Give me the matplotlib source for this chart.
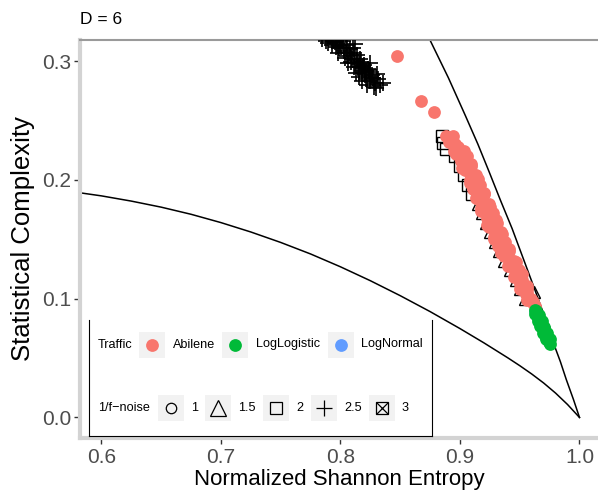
import matplotlib
matplotlib.use("Agg")
import matplotlib.pyplot as plt
from matplotlib.patches import Rectangle
from matplotlib.lines import Line2D

plt.rcParams['font.family'] = ['Liberation Sans', 'DejaVu Sans']

# ---------------- data ----------------
panel_title = "D = 6"
x_label = "Normalized Shannon Entropy"
y_label = "Statistical Complexity"
x_ticks = [0.6, 0.7, 0.8, 0.9, 1.0]
y_ticks = [0.0, 0.1, 0.2, 0.3]

# theoretical bound curves
upper_H = [0.8673, 0.8749, 0.8903, 0.9045, 0.9150, 0.9245, 0.9340, 0.9437, 0.9525, 0.9613,
           0.9700, 0.9779, 0.9840, 0.9890, 0.9950, 1.0000]
upper_C = [0.3336, 0.3177, 0.2859, 0.2541, 0.2300, 0.2065, 0.1825, 0.1588, 0.1350, 0.1112,
           0.0872, 0.0635, 0.0470, 0.0318, 0.0150, 0.0000]
lower_H = [0.5750, 0.6000, 0.6250, 0.6500, 0.6750, 0.7000, 0.7250, 0.7500, 0.7750, 0.8000,
           0.8250, 0.8500, 0.8750, 0.9000, 0.9200, 0.9400, 0.9500, 0.9600, 0.9700, 0.9800,
           0.9900, 1.0000]
lower_C = [0.1901, 0.1865, 0.1821, 0.1770, 0.1710, 0.1640, 0.1561, 0.1473, 0.1376, 0.1268,
           0.1151, 0.1025, 0.0891, 0.0748, 0.0628, 0.0502, 0.0436, 0.0366, 0.0290, 0.0205,
           0.0109, 0.0000]

# 1/f noise (black, hollow shapes)
noise_k25_H = [0.7845, 0.7895, 0.7937, 0.7962, 0.7996, 0.8029, 0.7979, 0.8054, 0.8080, 0.8096,
               0.8121, 0.8063, 0.8146, 0.8163, 0.8180, 0.8130, 0.8205, 0.8230, 0.8213, 0.8247,
               0.8264, 0.8289, 0.8180, 0.8314, 0.8280, 0.8331, 0.8046, 0.8013, 0.8113, 0.8197,
               0.7912, 0.8247, 0.8155, 0.8113, 0.8222,
               0.7879, 0.7929, 0.7987, 0.8021, 0.8071, 0.8105, 0.8138, 0.8172, 0.8038, 0.8088,
               0.8188, 0.8238, 0.8272, 0.8306, 0.8356, 0.8297, 0.8213, 0.8163, 0.7971, 0.8121,
               0.8054, 0.8088, 0.8138, 0.8188, 0.8238, 0.8004, 0.7954, 0.8155, 0.8205, 0.8255]
noise_k25_C = [0.3188, 0.3154, 0.3171, 0.3120, 0.3137, 0.3087, 0.3070, 0.3045, 0.3103, 0.3019,
               0.2986, 0.2986, 0.2952, 0.3019, 0.2918, 0.2902, 0.2885, 0.2935, 0.2851, 0.2834,
               0.2885, 0.2818, 0.2834, 0.2851, 0.2784, 0.2801, 0.3137, 0.3188, 0.3070, 0.2969,
               0.3204, 0.2986, 0.2868, 0.2952, 0.2801,
               0.3168, 0.3135, 0.3109, 0.3168, 0.3067, 0.3109, 0.3050, 0.2991, 0.3025, 0.2991,
               0.2940, 0.2907, 0.2856, 0.2890, 0.2815, 0.2773, 0.2915, 0.2949, 0.3151, 0.3143,
               0.3109, 0.3050, 0.3008, 0.2957, 0.2924, 0.3118, 0.3160, 0.2974, 0.2898, 0.2865]
noise_k2_H = [0.8850, 0.8862, 0.8880, 0.8955, 0.8999, 0.9036, 0.9071, 0.9103]
noise_k2_C = [0.2372, 0.2310, 0.2260, 0.2200, 0.2120, 0.2040, 0.1960, 0.1880]
noise_k15_H = [0.9150, 0.9185, 0.9218, 0.9252, 0.9289, 0.9330, 0.9372, 0.9415, 0.9465, 0.9505,
               0.9548, 0.9618]
noise_k15_C = [0.1800, 0.1720, 0.1640, 0.1560, 0.1480, 0.1400, 0.1320, 0.1240, 0.1160, 0.1080,
               0.1000, 0.1060]
noise_k1_H = [0.9680, 0.9700]
noise_k1_C = [0.0800, 0.0750]

# traffic series
lognormal_H = [0.9632]
lognormal_C = [0.0895]
abilene_H = [0.8473, 0.8674, 0.8782, 0.8880, 0.8941, 0.8905,
             0.8916, 0.8955, 0.9000, 0.8965, 0.9035, 0.9030, 0.9059, 0.9020, 0.9095, 0.9088,
             0.9117, 0.9080, 0.9155, 0.9142, 0.9167, 0.9130, 0.9205, 0.9192, 0.9218, 0.9180,
             0.9255, 0.9243, 0.9268, 0.9230, 0.9305, 0.9293, 0.9318, 0.9282, 0.9355, 0.9348,
             0.9377, 0.9340, 0.9412, 0.9406, 0.9435, 0.9400, 0.9468, 0.9460, 0.9485, 0.9452,
             0.9515, 0.9510, 0.9536, 0.9505, 0.9562, 0.9561, 0.9586, 0.9558, 0.9610, 0.9628,
             0.8915, 0.8987, 0.8951, 0.9055, 0.9007, 0.9089, 0.9038, 0.9136, 0.9085, 0.9171,
             0.9107, 0.9203, 0.9151, 0.9240, 0.9178, 0.9275, 0.9222, 0.9308, 0.9245, 0.9342,
             0.9288, 0.9379, 0.9320, 0.9410, 0.9371, 0.9452, 0.9412, 0.9492, 0.9462, 0.9522,
             0.9502, 0.9563, 0.9555, 0.9597, 0.9615]
abilene_C = [0.3040, 0.2660, 0.2570, 0.2365, 0.2372, 0.2320,
             0.2330, 0.2300, 0.2229, 0.2215, 0.2245, 0.2175, 0.2119, 0.2100, 0.2135, 0.2055,
             0.1993, 0.1975, 0.2010, 0.1930, 0.1867, 0.1850, 0.1885, 0.1812, 0.1758, 0.1740,
             0.1775, 0.1700, 0.1640, 0.1622, 0.1658, 0.1580, 0.1522, 0.1505, 0.1540, 0.1463,
             0.1405, 0.1388, 0.1422, 0.1350, 0.1295, 0.1278, 0.1312, 0.1245, 0.1194, 0.1178,
             0.1210, 0.1143, 0.1093, 0.1078, 0.1105, 0.1047, 0.1001, 0.0990, 0.0970, 0.0942,
             0.2320, 0.2280, 0.2240, 0.2200, 0.2160, 0.2120, 0.2080, 0.2040, 0.2000, 0.1960,
             0.1920, 0.1880, 0.1840, 0.1800, 0.1760, 0.1720, 0.1680, 0.1640, 0.1600, 0.1560,
             0.1520, 0.1480, 0.1440, 0.1400, 0.1360, 0.1320, 0.1280, 0.1240, 0.1200, 0.1160,
             0.1120, 0.1080, 0.1040, 0.1000, 0.0960]
loglogistic_H = [0.9630, 0.9640, 0.9645, 0.9655, 0.9662, 0.9670, 0.9678, 0.9685, 0.9692, 0.9700,
                 0.9708, 0.9715, 0.9722, 0.9730, 0.9738, 0.9745, 0.9752, 0.9636, 0.9660, 0.9695,
                 0.9725, 0.9665, 0.9688, 0.9707, 0.9728, 0.9750, 0.9630, 0.9655, 0.9672, 0.9695,
                 0.9718]
loglogistic_C = [0.0905, 0.0880, 0.0865, 0.0840, 0.0825, 0.0800, 0.0785, 0.0765, 0.0750, 0.0730,
                 0.0712, 0.0695, 0.0680, 0.0665, 0.0648, 0.0632, 0.0615, 0.0892, 0.0830, 0.0742,
                 0.0670, 0.0862, 0.0808, 0.0765, 0.0712, 0.0660, 0.0870, 0.0810, 0.0770, 0.0715,
                 0.0660]

traffic_labels = ["Abilene", "LogLogistic", "LogNormal"]
traffic_colors = ["#F8766D", "#00BA38", "#619CFF"]
noise_labels = ["1", "1.5", "2", "2.5", "3"]

# ---------------- figure ----------------
W, Hh = 598, 491
fig = plt.figure(figsize=(W / 100, Hh / 100), dpi=100)
ax = fig.add_axes([79.7 / W, 1 - 438 / Hh, 1 - 79.7 / W, (438 - 40) / Hh])
ax.set_xlim(0.5818, 1.0155)
ax.set_ylim(-0.0173, 0.3177)

ax.plot(upper_H, upper_C, color="black", lw=1.1, zorder=2)
ax.plot(lower_H, lower_C, color="black", lw=1.1, zorder=2)

mk = dict(linestyle="none", color="black", mfc="none", zorder=3)
ax.plot(noise_k25_H, noise_k25_C, marker="+", ms=11, mew=1.2, **mk)
ax.plot(noise_k2_H, noise_k2_C, marker="s", ms=8.5, mew=1.0, **mk)
ax.plot(noise_k15_H, noise_k15_C, marker="^", ms=9, mew=1.0, **mk)
ax.plot(noise_k1_H, noise_k1_C, marker="o", ms=8, mew=1.0, **mk)

pk = dict(linestyle="none", marker="o", ms=9.2, mec="none", zorder=4)
ax.plot(lognormal_H, lognormal_C, color=traffic_colors[2], **pk)
ax.plot(abilene_H, abilene_C, color=traffic_colors[0], **pk)
ax.plot(loglogistic_H, loglogistic_C, color=traffic_colors[1], **pk)

ax.set_xticks(x_ticks)
ax.set_xticklabels([f"{v:.1f}" for v in x_ticks])
ax.set_yticks(y_ticks)
ax.set_yticklabels([f"{v:.1f}" for v in y_ticks])
ax.tick_params(axis="both", direction="out", length=4, width=1.0, color="#333333",
               labelsize=15, labelcolor="#4D4D4D", pad=2)
ax.tick_params(axis="x", pad=3)
for s in ["left", "bottom"]:
    ax.spines[s].set_color("#D3D3D3")
    ax.spines[s].set_linewidth(3.0)
ax.spines["top"].set_color("#9A9A9A")
ax.spines["top"].set_linewidth(1.5)
ax.spines["right"].set_visible(False)
ax.set_xlabel(x_label, fontsize=16, color="black", labelpad=2)
ax.set_ylabel(y_label, fontsize=18.5, color="black", labelpad=5)

fig.text(80 / W, 1 - 20 / Hh, panel_title, fontsize=12.5, ha="left", va="center")

# ---------------- legend (manual, pixel coordinates) ----------------
lax = fig.add_axes([0, 0, 1, 1], zorder=10)
lax.set_xlim(0, W)
lax.set_ylim(Hh, 0)
lax.axis("off")
lax.add_patch(Rectangle((89, 320), 343, 116, facecolor="white", edgecolor="none"))
for (x0, y0, x1, y1) in [(89, 320, 89, 436), (432, 320, 432, 436), (89, 436, 432, 436)]:
    lax.add_line(Line2D([x0, x1], [y0, y1], color="black", lw=0.8))

fs = 9.1
lax.text(98, 344.5, "Traffic", fontsize=fs, ha="left", va="center")
key_x1 = [139.3, 222.3, 328.3]
lab_x1 = [172.7, 256, 361]
for kx, lx, lab, col in zip(key_x1, lab_x1, traffic_labels, traffic_colors):
    lax.add_patch(Rectangle((kx, 331.5), 26, 26, facecolor="#F2F2F2", edgecolor="none"))
    lax.plot([kx + 13], [344.5], marker="o", ms=9.2, color=col, mec="none")
    lax.text(lx, 344.5, lab, fontsize=fs, ha="left", va="center")

lax.text(98, 408.3, "1/f\u2212noise", fontsize=fs, ha="left", va="center")
key_x2 = [157.7, 205, 263.3, 311, 369.3]
lab_x2 = [191, 238.3, 296.7, 344.3, 401.7]
for i, (kx, lx, lab) in enumerate(zip(key_x2, lab_x2, noise_labels)):
    lax.add_patch(Rectangle((kx, 395.3), 26, 26, facecolor="#F2F2F2", edgecolor="none"))
    cx, cy = kx + 13, 408.3
    lk = dict(color="black", mfc="none", mew=0.9, linestyle="none")
    if i == 0:
        lax.plot([cx], [cy], marker="o", ms=7.5, **lk)
    elif i == 1:
        lax.plot([cx], [cy], marker="^", ms=11, **lk)
    elif i == 2:
        lax.plot([cx], [cy], marker="s", ms=8, **lk)
    elif i == 3:
        lax.plot([cx], [cy], marker="+", ms=11, **lk)
    else:
        lax.plot([cx], [cy], marker="s", ms=8, **lk)
        lax.plot([cx], [cy], marker="x", ms=8, **lk)
    lax.text(lx, cy, lab, fontsize=fs, ha="left", va="center")

fig.savefig("out.png", dpi=100)
